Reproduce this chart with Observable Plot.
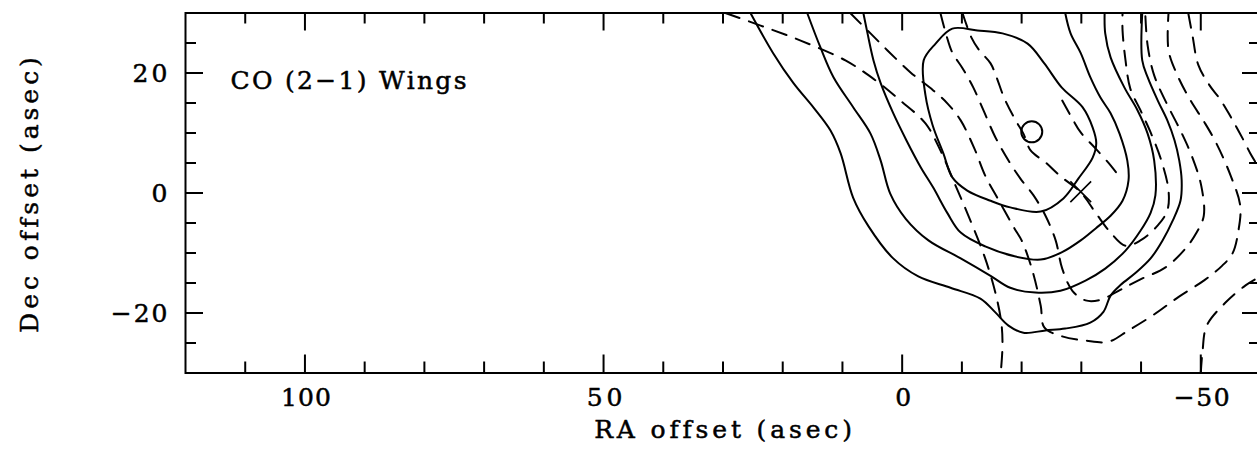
<!DOCTYPE html>
<html>
<head>
<meta charset="utf-8">
<script src="https://cdn.jsdelivr.net/npm/d3@7"></script>
<script src="https://cdn.jsdelivr.net/npm/@observablehq/plot@0.6"></script>
<style>
  html, body { margin: 0; padding: 0; background: #fff; overflow: hidden; }
</style>
</head>
<body>
<div id="chart"></div>
<script>
// ---- axis ticks ----
const xMajorTicks = [100, 50, 0, -50];
const xTickLabels = ["100", "50", "0", "\u221250"];
const xMinorTicks = [110, 90, 80, 70, 60, 40, 30, 20, 10, -10, -20, -30, -40];
const yMajorTicks = [20, 0, -20];
const yTickLabels = ["20", "0", "\u221220"];
const yMinorTicks = [25, 15, 10, 5, -5, -10, -15, -25];

const xLabel = "RA offset (asec)";
const yLabel = "Dec offset (asec)";
const panelLabel = "CO (2\u22121) Wings";

// ---- solid contours (RA offset, Dec offset) ----
const solid1 = [[25.4,30],[21.6,23.3],[18.2,18.3],[14.9,14.3],[12.0,10.4],[10.3,6.6],[8.2,-0.8],[5.6,-5.6],[1.5,-10.9],[-2.7,-13.9],[-8.1,-15.8],[-13.1,-17.6],[-15.6,-19.9],[-17.8,-22.1],[-20.3,-23.3],[-24.0,-22.9],[-27.3,-22.6],[-31.5,-21.6],[-33.7,-19.8],[-34.9,-17.1],[-36.6,-15.3],[-39.1,-13.3],[-41.6,-10.9],[-43.6,-7.9],[-45.3,-4.6],[-46.6,-1.3],[-46.8,2.1],[-46.4,5.4],[-45.6,8.8],[-44.4,12.1],[-42.8,15.4],[-41.1,19.3],[-40.2,22.1],[-40.2,30]];
const solid2 = [[15.9,30],[13.7,24.3],[11.5,19.3],[8.2,14.3],[5.3,9.9],[3.6,5.4],[2.0,-0.1],[-0.6,-4.3],[-4.4,-7.9],[-9.8,-10.9],[-14.8,-13.8],[-18.1,-15.8],[-22.3,-16.6],[-26.5,-16.3],[-30.7,-14.6],[-34.0,-12.6],[-37.4,-9.6],[-39.9,-6.3],[-41.6,-3.3],[-42.4,-0.4],[-42.2,5.4],[-41.1,9.9],[-39.4,13.8],[-37.2,17.6],[-34.9,22.6],[-34.0,26.6],[-33.9,30]];
const solid3 = [[6.5,30],[5.8,26.6],[4.8,22.1],[3.6,18.3],[1.5,13.3],[-0.7,8.8],[-3.1,4.3],[-5.2,0.9],[-7.6,-3.4],[-9.8,-6.6],[-13.9,-8.9],[-19.0,-10.6],[-23.2,-11.1],[-26.7,-9.9],[-29.9,-7.9],[-32.4,-5.9],[-34.9,-3.8],[-36.9,-1.3],[-37.9,2.1],[-37.7,5.4],[-36.4,9.9],[-34.9,13.3],[-33.2,15.9],[-31.5,19.3],[-29.9,23.3],[-28.2,26.6],[-27.3,30]];
const solid4 = [[-3.6,22.1],[-5.6,24.9],[-8.4,27.4],[-12.6,27.1],[-16.8,26.6],[-21.0,24.9],[-23.8,21.6],[-26.7,17.6],[-30.2,14.3],[-31.9,10.9],[-32.5,8.3],[-31.9,5.9],[-29.5,2.4],[-27.0,-0.9],[-23.2,-3.1],[-18.1,-2.4],[-14.8,-1.3],[-10.9,0.4],[-8.4,2.6],[-6.9,6.6],[-5.1,11.3],[-3.9,16.3]];

// ---- dashed contours ----
const dashA = [[29.6,30],[23.7,27.9],[17.0,25.4],[9.5,22.1],[4.5,18.8],[0.3,15.4],[-3.9,11.6],[-6.4,7.1],[-8.9,1.3],[-11.1,-3.8],[-13.9,-10.9],[-15.6,-16.6],[-16.6,-21.6],[-16.8,-25.4],[-16.5,-30]];
const dashB = [[8.7,30],[5.3,26.6],[2.5,23.8],[-1.4,20.1],[-5.2,17.1],[-7.6,14.9],[-9.8,12.1],[-12.1,7.4],[-13.9,2.9],[-16.1,-1.1],[-18.8,-5.9],[-20.0,-7.9],[-21.8,-12.9],[-23.2,-18.8],[-23.8,-22.4],[-26.5,-23.8],[-30.7,-24.6],[-34.5,-24.8],[-37.9,-22.9],[-42.1,-20.3],[-46.3,-17.3],[-50.5,-14.6],[-53.6,-12.1],[-55.3,-10.1],[-56.3,-6.3],[-56.6,-2.1],[-55.0,2.9],[-52.6,8.3],[-50.6,11.8],[-48.3,15.4],[-46.1,19.6],[-44.6,23.8],[-44.6,30]];
const dashC = [[-6.4,30],[-7.4,26.3],[-8.4,23.4],[-10.1,20.8],[-11.9,17.6],[-13.6,13.8],[-15.6,9.3],[-17.8,5.4],[-19.8,2.4],[-22.0,-0.4],[-24.0,-3.8],[-25.7,-7.9],[-26.8,-12.6],[-28.5,-16.3],[-30.7,-17.9],[-33.2,-17.8],[-36.6,-16.1],[-39.9,-14.4],[-44.1,-12.4],[-47.4,-9.3],[-49.3,-6.6],[-50.5,-3.8],[-50.1,1.1],[-48.6,5.9],[-46.6,10.4],[-44.3,14.9],[-42.2,19.6],[-41.1,24.6],[-40.7,30]];
const dashD = [[-10.1,30],[-11.6,25.9],[-12.9,23.8],[-14.8,21.6],[-15.8,19.3],[-17.1,15.8],[-19.0,12.1],[-20.3,9.9],[-21.5,7.1],[-24.0,5.1],[-26.5,2.8],[-29.9,0.1],[-32.4,-3.3],[-34.9,-6.6],[-37.4,-8.8],[-39.9,-7.9],[-42.8,-5.4],[-44.4,-2.9],[-44.6,0.4],[-43.4,5.4],[-41.6,10.1],[-39.9,13.8],[-38.2,17.4],[-37.4,22.1],[-36.9,27.1],[-36.9,30]];
const dashE = [[-26.8,15.4],[-28.2,12.9],[-29.9,10.1],[-32.4,7.4],[-34.9,4.6],[-36.6,2.4]];
const dashF = [[-47.9,30],[-48.6,26.3],[-49.6,21.3],[-51.5,17.9],[-53.1,15.8],[-54.6,13.4],[-55.8,11.3],[-57.0,9.1],[-58.3,6.6],[-59.5,4.6]];
const dashG = [[-50.0,-30],[-50.3,-26.3],[-51.0,-22.1],[-54.1,-18.3],[-57.5,-15.4],[-60,-13.9]];

// ---- markers ----
const circleMarker = [[-21.7, 10.2]];
const crossMarker = [[-29.9, 0.2]];

// ---- build tables ----
const toRows = (sets) => sets.flatMap(([id, pts]) => pts.map(([x, y]) => ({id, x, y})));
const solidOpen = toRows([["s1", solid1], ["s2", solid2], ["s3", solid3]]);
const solidClosed = toRows([["s4", solid4]]);
const dashedRows = toRows([["a", dashA], ["b", dashB], ["c", dashC], ["d", dashD], ["e", dashE], ["f", dashF], ["g", dashG]]);

// geometry
const W = 1257, H = 454;
const mL = 185, mR = -3, mT = 12.5, mB = 81.5;
const xDom = [120, -60], yDom = [-30, 30];
const pxPerX = (W - mL - mR) / Math.abs(xDom[1] - xDom[0]);
const pxPerY = (H - mT - mB) / Math.abs(yDom[1] - yDom[0]);
const majLen = 18, minLen = 11;

const font = '"DejaVu Serif", serif';
const txt = {fontFamily: font, fill: "#000", stroke: "#000", strokeWidth: 0.5};

const svg = Plot.plot({
  width: W, height: H,
  marginLeft: mL, marginRight: mR, marginTop: mT, marginBottom: mB,
  x: {domain: xDom, axis: null},
  y: {domain: yDom, axis: null},
  style: {background: "#fff", color: "#000", fontFamily: font, overflow: "hidden"},
  marks: [
    Plot.line(dashedRows, {x: "x", y: "y", z: "id", stroke: "#000", strokeWidth: 2, strokeDasharray: "15,10", curve: "catmull-rom"}),
    Plot.line(solidOpen, {x: "x", y: "y", z: "id", stroke: "#000", strokeWidth: 2, curve: "catmull-rom"}),
    Plot.line(solidClosed, {x: "x", y: "y", z: "id", stroke: "#000", strokeWidth: 2, curve: "catmull-rom-closed"}),
    Plot.dot(circleMarker, {x: d => d[0], y: d => d[1], r: 10.5, stroke: "#000", strokeWidth: 2, fill: "none"}),
    Plot.dot(crossMarker, {x: d => d[0], y: d => d[1], r: 9.5, symbol: "times", stroke: "#000", strokeWidth: 1.6}),
    // bottom & top ticks
    Plot.ruleX(xMajorTicks, {x: d => d, y1: yDom[0], y2: yDom[0] + majLen / pxPerY, stroke: "#000", strokeWidth: 2}),
    Plot.ruleX(xMinorTicks, {x: d => d, y1: yDom[0], y2: yDom[0] + minLen / pxPerY, stroke: "#000", strokeWidth: 2}),
    Plot.ruleX(xMajorTicks, {x: d => d, y1: yDom[1], y2: yDom[1] - majLen / pxPerY, stroke: "#000", strokeWidth: 2}),
    Plot.ruleX(xMinorTicks, {x: d => d, y1: yDom[1], y2: yDom[1] - minLen / pxPerY, stroke: "#000", strokeWidth: 2}),
    // left & right ticks
    Plot.ruleY(yMajorTicks, {y: d => d, x1: xDom[0], x2: xDom[0] - majLen / pxPerX, stroke: "#000", strokeWidth: 2}),
    Plot.ruleY(yMinorTicks, {y: d => d, x1: xDom[0], x2: xDom[0] - minLen / pxPerX, stroke: "#000", strokeWidth: 2}),
    Plot.ruleY(yMajorTicks, {y: d => d, x1: xDom[1], x2: xDom[1] + majLen / pxPerX, stroke: "#000", strokeWidth: 2}),
    Plot.ruleY(yMinorTicks, {y: d => d, x1: xDom[1], x2: xDom[1] + minLen / pxPerX, stroke: "#000", strokeWidth: 2}),
    Plot.frame({stroke: "#000", strokeWidth: 2}),
    // tick labels
    Plot.text(xMajorTicks, {x: d => d, text: (d, i) => xTickLabels[i], frameAnchor: "bottom", textAnchor: "middle", dy: 33, dx: 1, fontSize: 25, ...txt}),
    Plot.text(yMajorTicks, {y: d => d, text: (d, i) => yTickLabels[i], frameAnchor: "left", textAnchor: "end", dx: -18, dy: 1, fontSize: 25, ...txt}),
    // axis labels
    Plot.text([xLabel], {text: d => d, frameAnchor: "bottom", textAnchor: "middle", dy: 65, fontSize: 25, ...txt}),
    Plot.text([yLabel], {text: d => d, frameAnchor: "left", textAnchor: "middle", rotate: -90, dx: -156, dy: 2, fontSize: 25, ...txt}),
    Plot.text([panelLabel], {text: d => d, frameAnchor: "top-left", textAnchor: "start", dx: 45, dy: 58.5, fontSize: 25, ...txt})
  ]
});

document.getElementById("chart").appendChild(svg);

// stretch the glyph spacing so each text spans the width it has in the reference
const targetWidths = new Map([
  [xLabel, 257], [yLabel, 275], [panelLabel, 236],
  ["100", 50], ["50", 35.5], ["\u221250", 56], ["20", 35], ["\u221220", 56.7]
]);
d3.select(svg).selectAll("text").each(function() {
  const t = this.textContent;
  const target = targetWidths.get(t);
  if (!target) return;
  const n = [...t].length;
  const len = this.getComputedTextLength();
  const ls = Math.max(0, (target - len) / (n - 1));
  this.style.letterSpacing = ls + "px";
  const anchor = getComputedStyle(this).textAnchor;
  const shift = anchor === "end" ? ls : anchor === "middle" ? ls / 2 : 0;
  const cur = parseFloat(this.getAttribute("dx") || "0");
  this.setAttribute("dx", cur + shift);
});
</script>
</body>
</html>
